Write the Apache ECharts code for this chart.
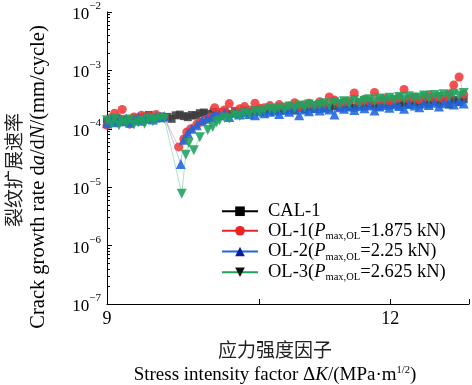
<!DOCTYPE html>
<html><head><meta charset="utf-8">
<script src="https://cdn.jsdelivr.net/npm/echarts@6/dist/echarts.min.js"></script>
<style>html,body{margin:0;padding:0;background:#fff}#c{width:472px;height:385px}</style>
</head><body><div id="c"></div>
<script>
// ---- data ----
const kPre = [9.00,9.04,9.07,9.11,9.14,9.18,9.21,9.25,9.29,9.32,9.35,9.39,9.43,9.46,9.50,9.54];
const kPost = [10.09,10.14,10.19,10.25,10.30,10.35,10.40,10.46,10.51,10.56,10.62,10.67,10.72,10.78,10.83,10.89,10.94,11.00,11.05,11.11,11.17,11.22,11.28,11.34,11.40,11.45,11.51,11.57,11.63,11.69,11.75,11.81,11.87,11.93,11.99,12.05,12.11,12.17,12.23,12.30,12.36,12.42,12.48,12.55,12.61,12.67,12.74,12.80,12.87,12.93];

const calPre = [1.35e-4,1.42e-4,1.38e-4,1.30e-4,1.45e-4,1.40e-4,1.36e-4,1.48e-4,1.52e-4,1.45e-4,1.60e-4,1.72e-4,1.55e-4,1.50e-4,1.62e-4,1.58e-4];
const calMidK = [9.57,9.61,9.65,9.69,9.73,9.77,9.81,9.85,9.89,9.93,9.97,10.03];
const calMid = [1.60e-4,1.48e-4,1.70e-4,1.75e-4,1.65e-4,1.58e-4,1.72e-4,1.68e-4,1.85e-4,1.90e-4,1.80e-4,1.95e-4];
const calPost = [1.85e-4,1.95e-4,1.80e-4,2.00e-4,1.90e-4,2.05e-4,1.95e-4,2.10e-4,1.98e-4,2.05e-4,
  2.15e-4,2.00e-4,2.20e-4,2.10e-4,2.25e-4,2.05e-4,2.30e-4,2.15e-4,2.35e-4,2.20e-4,
  2.40e-4,2.25e-4,2.30e-4,2.45e-4,2.35e-4,2.50e-4,2.40e-4,2.30e-4,2.55e-4,2.45e-4,
  2.60e-4,2.50e-4,2.40e-4,2.65e-4,2.55e-4,2.70e-4,2.50e-4,2.75e-4,2.65e-4,2.80e-4,
  2.60e-4,2.90e-4,2.70e-4,2.95e-4,2.75e-4,3.00e-4,2.60e-4,3.10e-4,2.85e-4,3.20e-4];

const ol1Pre = [1.15e-4,1.55e-4,1.85e-4,1.50e-4,2.15e-4,1.35e-4,1.20e-4,1.60e-4,1.45e-4,1.70e-4,1.55e-4,1.65e-4,1.50e-4,1.75e-4,1.60e-4,1.55e-4];
const ol1DipK = [9.68,9.73,9.76,9.80,9.86,9.90,9.95,10.00,10.04];
const ol1Dip = [4.9e-5,6.7e-5,8.8e-5,1.0e-4,1.2e-4,1.3e-4,1.45e-4,1.6e-4,2.3e-4];
const ol1Post = [1.90e-4,2.10e-4,2.70e-4,2.00e-4,2.20e-4,2.40e-4,2.10e-4,2.75e-4,2.25e-4,2.30e-4,
  2.50e-4,2.20e-4,2.60e-4,2.35e-4,2.45e-4,2.80e-4,2.40e-4,2.55e-4,2.75e-4,2.45e-4,
  2.90e-4,2.60e-4,3.50e-4,3.10e-4,2.65e-4,2.85e-4,3.00e-4,4.10e-4,2.80e-4,3.20e-4,
  2.90e-4,4.20e-4,3.00e-4,3.30e-4,2.95e-4,3.10e-4,3.40e-4,4.70e-4,3.20e-4,3.50e-4,
  3.15e-4,3.40e-4,3.80e-4,3.30e-4,3.60e-4,3.20e-4,3.90e-4,5.60e-4,7.70e-4,3.90e-4];

const ol2Pre = [1.25e-4,1.45e-4,1.30e-4,1.55e-4,1.35e-4,1.50e-4,1.28e-4,1.42e-4,1.60e-4,1.38e-4,1.48e-4,1.55e-4,1.45e-4,1.62e-4,1.58e-4,1.65e-4];
const ol2DipK = [9.70,9.73,9.77,9.81,9.86,9.91,9.96,10.01,10.05];
const ol2Dip = [2.5e-5,6.5e-5,8.5e-5,1.0e-4,1.15e-4,1.4e-4,1.5e-4,1.6e-4,1.75e-4];
const ol2Post = [1.70e-4,1.85e-4,1.60e-4,1.90e-4,1.75e-4,1.95e-4,1.80e-4,1.70e-4,2.00e-4,1.85e-4,
  1.95e-4,2.05e-4,1.80e-4,2.10e-4,1.95e-4,2.20e-4,1.70e-4,2.15e-4,2.00e-4,2.25e-4,
  2.05e-4,2.30e-4,2.15e-4,1.75e-4,2.35e-4,2.20e-4,2.40e-4,2.10e-4,2.45e-4,2.25e-4,
  2.50e-4,2.05e-4,2.40e-4,2.55e-4,2.30e-4,2.60e-4,2.45e-4,2.20e-4,2.65e-4,2.50e-4,
  2.35e-4,2.70e-4,2.55e-4,2.80e-4,2.40e-4,2.75e-4,2.90e-4,2.60e-4,3.00e-4,2.70e-4];

const ol3Pre = [1.40e-4,1.20e-4,1.50e-4,1.15e-4,1.35e-4,1.25e-4,1.45e-4,1.18e-4,1.30e-4,1.40e-4,1.22e-4,1.50e-4,1.35e-4,1.45e-4,1.55e-4,1.50e-4];
const ol3DipK = [9.71,9.75,9.78,9.83,9.89,9.97,10.02,10.06];
const ol3Dip = [7.7e-6,3.6e-5,5.7e-5,4.3e-5,7.2e-5,9.5e-5,1.07e-4,1.3e-4];
const ol3Post = [1.40e-4,1.55e-4,1.50e-4,1.70e-4,1.65e-4,1.85e-4,1.75e-4,2.00e-4,1.90e-4,2.10e-4,
  2.20e-4,2.05e-4,2.30e-4,2.15e-4,2.40e-4,2.25e-4,2.50e-4,2.35e-4,2.60e-4,2.45e-4,
  2.55e-4,2.75e-4,2.50e-4,2.85e-4,2.65e-4,2.95e-4,2.70e-4,3.10e-4,2.80e-4,3.00e-4,
  3.20e-4,2.90e-4,3.30e-4,3.05e-4,3.40e-4,3.15e-4,3.50e-4,3.20e-4,3.60e-4,3.30e-4,
  3.45e-4,3.70e-4,3.35e-4,3.80e-4,3.50e-4,3.90e-4,3.60e-4,4.00e-4,3.70e-4,4.10e-4];

const xTicks = [9, 10.5, 12, 13];
const xLabels = [9, 12];
const yMajor = [1e-7, 1e-6, 1e-5, 1e-4, 1e-3, 1e-2];
const yMinor = [];
[1e-7,1e-6,1e-5,1e-4,1e-3].forEach(d => { for (let m = 2; m <= 9; m++) yMinor.push(+(m * d).toPrecision(3)); });

const seriesNames = ['CAL-1', 'OL-1', 'OL-2', 'OL-3'];
const legendRich = {
  'CAL-1': '{t|CAL-1}',
  'OL-1': '{t|OL-1(}{i|P}{sub|max,OL}{t|=1.875 kN)}',
  'OL-2': '{t|OL-2(}{i|P}{sub|max,OL}{t|=2.25 kN)}',
  'OL-3': '{t|OL-3(}{i|P}{sub|max,OL}{t|=2.625 kN)}'
};

function zip(ks, vs) { return ks.map((k, i) => [k, vs[i]]); }
const dCAL = zip([...kPre, ...calMidK, ...kPost], [...calPre, ...calMid, ...calPost]);
const dOL1 = zip([...kPre, ...ol1DipK, ...kPost], [...ol1Pre, ...ol1Dip, ...ol1Post]);
const dOL2 = zip([...kPre, ...ol2DipK, ...kPost], [...ol2Pre, ...ol2Dip, ...ol2Post]);
const dOL3 = zip([...kPre, ...ol3DipK, ...kPost], [...ol3Pre, ...ol3Dip, ...ol3Post]);

const FONT = '"Liberation Serif", "Noto Sans CJK SC", serif';
const colors = ['#3c3c3c', '#f03a3a', '#1f66dd', '#1fa35e'];

function mk(name, data, color, symbol, size, rot) {
  return {
    name, type: 'line', data, symbol, symbolSize: size, symbolRotate: rot || 0,
    itemStyle: { color, opacity: 0.88 },
    lineStyle: { color, width: 1, opacity: 0.35 },
    emphasis: { disabled: true }, animation: false, clip: true
  };
}

const chart = echarts.init(document.getElementById('c'), null, { renderer: 'canvas' });
chart.setOption({
  animation: false,
  grid: { left: 107, right: 3, top: 12, bottom: 81, outerBoundsMode: 'none', containLabel: false },
  xAxis: {
    type: 'log', logBase: 10, min: 9, max: 13,
    axisLine: { onZero: false, lineStyle: { color: '#000', width: 1 } },
    axisTick: { inside: true, length: 5, customValues: xTicks, lineStyle: { color: '#000' } },
    axisLabel: { customValues: xLabels, formatter: v => String(Math.round(v * 10) / 10), color: '#000', fontFamily: FONT, fontSize: 18, margin: 6 },
    splitLine: { show: false }, minorTick: { show: false }
  },
  yAxis: [{
    type: 'log', logBase: 10, min: 1e-7, max: 1e-2,
    axisLine: { show: true, lineStyle: { color: '#000', width: 1 } },
    axisTick: { inside: true, length: 5, customValues: yMajor, lineStyle: { color: '#000' } },
    axisLabel: {
      customValues: yMajor, margin: 6,
      formatter: v => '{b|10}{s|\u2212' + Math.round(-Math.log10(v)) + '}',
      rich: {
        b: { fontFamily: FONT, fontSize: 17, color: '#000', lineHeight: 22, verticalAlign: 'bottom' },
        s: { fontFamily: FONT, fontSize: 11, color: '#000', lineHeight: 12, verticalAlign: 'top' }
      }
    },
    splitLine: { show: false }
  }, {
    type: 'log', logBase: 10, min: 1e-7, max: 1e-2, position: 'left',
    axisLine: { show: false },
    axisTick: { show: true, inside: true, length: 3, customValues: yMinor, lineStyle: { color: '#000' } },
    axisLabel: { show: false }, splitLine: { show: false }
  }],
  legend: {
    data: [
      { name: 'CAL-1', itemStyle: { color: '#000', opacity: 1 }, lineStyle: { color: '#000', opacity: 1, width: 2 } },
      { name: 'OL-1', itemStyle: { color: '#ee2222', opacity: 1 }, lineStyle: { color: '#ee2222', opacity: 1, width: 2 } },
      { name: 'OL-2', itemStyle: { color: '#0a1f9e', opacity: 1 }, lineStyle: { color: '#1f66dd', opacity: 1, width: 2 } },
      { name: 'OL-3', itemStyle: { color: '#111', opacity: 1 }, lineStyle: { color: '#1fa35e', opacity: 1, width: 2 } }
    ],
    orient: 'vertical', left: 216, top: 197,
    itemWidth: 36, itemHeight: 12, itemGap: 1,
    formatter: n => legendRich[n],
    textStyle: {
      padding: [0, 0, 0, 5],
      rich: {
        t: { fontFamily: FONT, fontSize: 18.5, color: '#000', lineHeight: 21 },
        i: { fontFamily: FONT, fontSize: 18.5, fontStyle: 'italic', color: '#000', lineHeight: 21 },
        sub: { fontFamily: FONT, fontSize: 10.5, color: '#000', lineHeight: 21, verticalAlign: 'bottom', padding: [6, 0, 0, 0] }
      }
    }
  },
  graphic: [
    { type: 'text', x: 16, y: 170, rotation: Math.PI / 2,
      style: { text: '裂纹扩展速率', font: '19px ' + FONT, fill: '#222', align: 'center', verticalAlign: 'middle' } },
    { type: 'text', x: 39, y: 177, rotation: Math.PI / 2,
      style: { text: '{t|Crack growth rate d}{i|a}{t|/d}{i|N}{t|/(mm/cycle)}', align: 'center', verticalAlign: 'middle',
        rich: { t: { fontFamily: FONT, fontSize: 20.5, fill: '#000' }, i: { fontFamily: FONT, fontSize: 20.5, fontStyle: 'italic', fill: '#000' } } } },
    { type: 'text', x: 275, y: 352,
      style: { text: '应力强度因子', font: '19px ' + FONT, fill: '#222', align: 'center', verticalAlign: 'middle' } },
    { type: 'text', x: 275, y: 375,
      style: { text: '{t|Stress intensity factor Δ}{i|K}{t|/(MPa·m}{sup|1/2}{t|)}', align: 'center', verticalAlign: 'middle',
        rich: { t: { fontFamily: FONT, fontSize: 19, fill: '#000', lineHeight: 20 }, i: { fontFamily: FONT, fontSize: 19, fontStyle: 'italic', fill: '#000', lineHeight: 20 },
          sup: { fontFamily: FONT, fontSize: 10.5, fill: '#000', lineHeight: 10, verticalAlign: 'top' } } } }
  ],
  series: [
    mk('CAL-1', dCAL, colors[0], 'rect', 8),
    mk('OL-1', dOL1, colors[1], 'circle', 9),
    mk('OL-2', dOL2, colors[2], 'triangle', 10),
    mk('OL-3', dOL3, colors[3], 'triangle', 10, 180)
  ]
});
</script></body></html>
